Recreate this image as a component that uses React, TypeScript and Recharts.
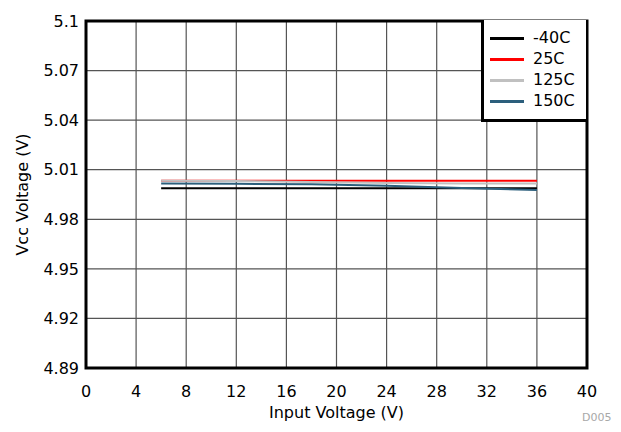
import React from 'react';
import { LineChart, Line, XAxis, YAxis, CartesianGrid, ReferenceArea, Label } from 'recharts';

const inputVoltage = [6, 12, 18, 24, 30, 36];
const vccMinus40 = [4.9988, 4.9988, 4.9988, 4.9988, 4.9988, 4.9988];
const vcc25 = [5.0033, 5.0033, 5.0033, 5.0033, 5.0033, 5.0033];
const vcc125 = [5.0033, 5.0031, 5.0026, 5.002, 5.0017, 5.0016];
const vcc150 = [5.0016, 5.0015, 5.0012, 5.0003, 4.999, 4.9977];

const xTicks = [0, 4, 8, 12, 16, 20, 24, 28, 32, 36, 40];
const yTicks = [4.89, 4.92, 4.95, 4.98, 5.01, 5.04, 5.07, 5.1];

const seriesList = [
  { key: 'm40', name: '-40C', color: '#000000', values: vccMinus40 },
  { key: 't25', name: '25C', color: '#ff0000', values: vcc25 },
  { key: 't125', name: '125C', color: '#c0c0c0', values: vcc125 },
  { key: 't150', name: '150C', color: '#2c5f7c', values: vcc150 },
];

const data = inputVoltage.map((x, i) => {
  const row: any = { x };
  seriesList.forEach((s) => {
    row[s.key] = s.values[i];
  });
  return row;
});

const FONT = '"DejaVu Sans", sans-serif';

const YLabel = (props: any) => {
  const vb = props.viewBox || { x: 0, y: 21, width: 86, height: 347 };
  const cx = vb.x + 28;
  const cy = vb.y + vb.height / 2;
  return (
    <text x={cx} y={cy} transform={`rotate(-90 ${cx} ${cy})`} textAnchor="middle" fontFamily={FONT} fontSize={16} fill="#000">
      Vcc Voltage (V)
    </text>
  );
};

const XLabel = (props: any) => {
  const vb = props.viewBox || { x: 86, y: 368, width: 501, height: 64 };
  return (
    <text x={vb.x + vb.width / 2} y={vb.y + 50} textAnchor="middle" fontFamily={FONT} fontSize={16} fill="#000">
      Input Voltage (V)
    </text>
  );
};

export default function App() {
  return (
    <div style={{ position: 'absolute', left: 0, top: 0, width: 621, height: 432, background: '#fff' }}>
      <LineChart width={621} height={432} data={data} margin={{ top: 21, right: 34, bottom: 0, left: 0 }}>
        <CartesianGrid stroke="#555555" strokeWidth={1.2} horizontalValues={yTicks} verticalValues={xTicks} />
        <XAxis
          dataKey="x"
          type="number"
          domain={[0, 40]}
          ticks={xTicks}
          height={64}
          tickLine={false}
          axisLine={false}
          tickSize={16}
          tickMargin={2}
          tick={{ fontFamily: FONT, fontSize: 16, fill: '#000' }}
          interval={0}
        >
          <Label content={<XLabel />} />
        </XAxis>
        <YAxis
          type="number"
          domain={[4.89, 5.1]}
          ticks={yTicks}
          width={86}
          tickLine={false}
          axisLine={false}
          tickSize={5}
          tickMargin={2}
          interval={0}
          tick={{ fontFamily: FONT, fontSize: 16, fill: '#000' }}
          tickFormatter={(v: number) => (v === 5.1 ? '5.1' : v.toFixed(2))}
        >
          <Label content={<YLabel />} />
        </YAxis>
        {seriesList.map((s) => (
          <Line
            key={s.key}
            dataKey={s.key}
            name={s.name}
            stroke={s.color}
            strokeWidth={2}
            dot={false}
            activeDot={false}
            isAnimationActive={false}
          />
        ))}
        <ReferenceArea x1={0} x2={40} y1={4.89} y2={5.1} fill="none" stroke="#000" strokeWidth={3} ifOverflow="visible" />
      </LineChart>
      <div
        style={{
          position: 'absolute',
          left: 481,
          top: 20,
          width: 102,
          height: 99,
          border: '3px solid #000',
          borderTop: 'none',
          borderRight: 'none',
          background: '#fff',
          fontFamily: FONT,
          fontSize: 16,
        }}
      >
        {seriesList.map((s, i) => (
          <div key={s.key} style={{ position: 'absolute', left: 6, top: 8 + i * 21, height: 20, display: 'flex', alignItems: 'center' }}>
            <div style={{ width: 34, height: 3, background: s.color, marginRight: 9 }} />
            <span style={{ lineHeight: '20px', color: '#000' }}>{s.name}</span>
          </div>
        ))}
      </div>
      <div style={{ position: 'absolute', left: 582, top: 411, fontFamily: FONT, fontSize: 11, color: '#a8a8a8' }}>D005</div>
    </div>
  );
}
